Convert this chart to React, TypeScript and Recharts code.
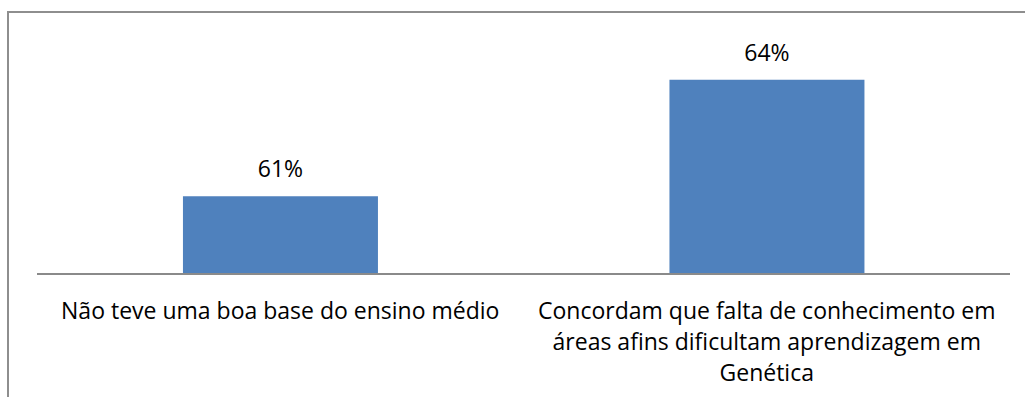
import { BarChart, Bar, XAxis, YAxis, LabelList } from "recharts";

const categories = [
  "Não teve uma boa base do ensino médio",
  "Concordam que falta de conhecimento em áreas afins dificultam aprendizagem em Genética",
];
const percentages = [61, 64];

const data = categories.map((name, i) => ({ name, value: percentages[i] }));

const FONT = "'Open Sans', 'Noto Sans', sans-serif";
const FONT_SIZE = 23;
const LINE_HEIGHT = 31;
const WRAP_WIDTH = 470;

let ctx: CanvasRenderingContext2D | null = null;
function measure(s: string) {
  if (!ctx) {
    ctx = document.createElement("canvas").getContext("2d");
    if (ctx) ctx.font = `${FONT_SIZE}px ${FONT}`;
  }
  return ctx ? ctx.measureText(s).width : s.length * FONT_SIZE * 0.5;
}

function wrap(label: string) {
  const lines: string[] = [];
  let cur = "";
  for (const w of label.split(" ")) {
    const next = cur ? `${cur} ${w}` : w;
    if (cur && measure(next) > WRAP_WIDTH) {
      lines.push(cur);
      cur = w;
    } else {
      cur = next;
    }
  }
  if (cur) lines.push(cur);
  return lines;
}

// wrapped category label under each bar
function CategoryTick(props: any) {
  const { x, y, payload } = props;
  const lines = wrap(String(payload.value));
  return (
    <text x={x} y={y} textAnchor="middle" fontFamily={FONT} fontSize={FONT_SIZE} fill="#000">
      {lines.map((line, i) => (
        <tspan key={i} x={x} y={y + 17 + i * LINE_HEIGHT}>
          {line}
        </tspan>
      ))}
    </text>
  );
}

export default function App() {
  return (
    <div style={{ position: "fixed", left: 0, top: 0, width: 1025, height: 397, overflow: "hidden", background: "#fff" }}>
      <div
        style={{
          position: "absolute",
          left: 7,
          top: 11,
          width: 1040,
          height: 420,
          borderLeft: "2px solid #8e8e8e",
          borderTop: "2px solid #8e8e8e",
        }}
      />
      <div style={{ position: "absolute", left: 0, top: 0 }}>
        <BarChart
          width={1025}
          height={397}
          data={data}
          margin={{ top: 41, right: 15, bottom: 23, left: 37 }}
          barCategoryGap="30%"
        >
          <XAxis
            dataKey="name"
            height={100}
            tickLine={false}
            tickSize={0}
            tickMargin={28}
            axisLine={{ stroke: "#8a8a8a", strokeWidth: 2 }}
            tick={<CategoryTick />}
            interval={0}
          />
          <YAxis hide domain={[59, 65]} allowDataOverflow />
          <Bar dataKey="value" fill="#4f81bd" isAnimationActive={false}>
            <LabelList
              dataKey="value"
              position="top"
              offset={19}
              formatter={(v: any) => `${v}%`}
              fontSize={FONT_SIZE}
              fontFamily={FONT}
              fill="#000"
            />
          </Bar>
        </BarChart>
      </div>
    </div>
  );
}
